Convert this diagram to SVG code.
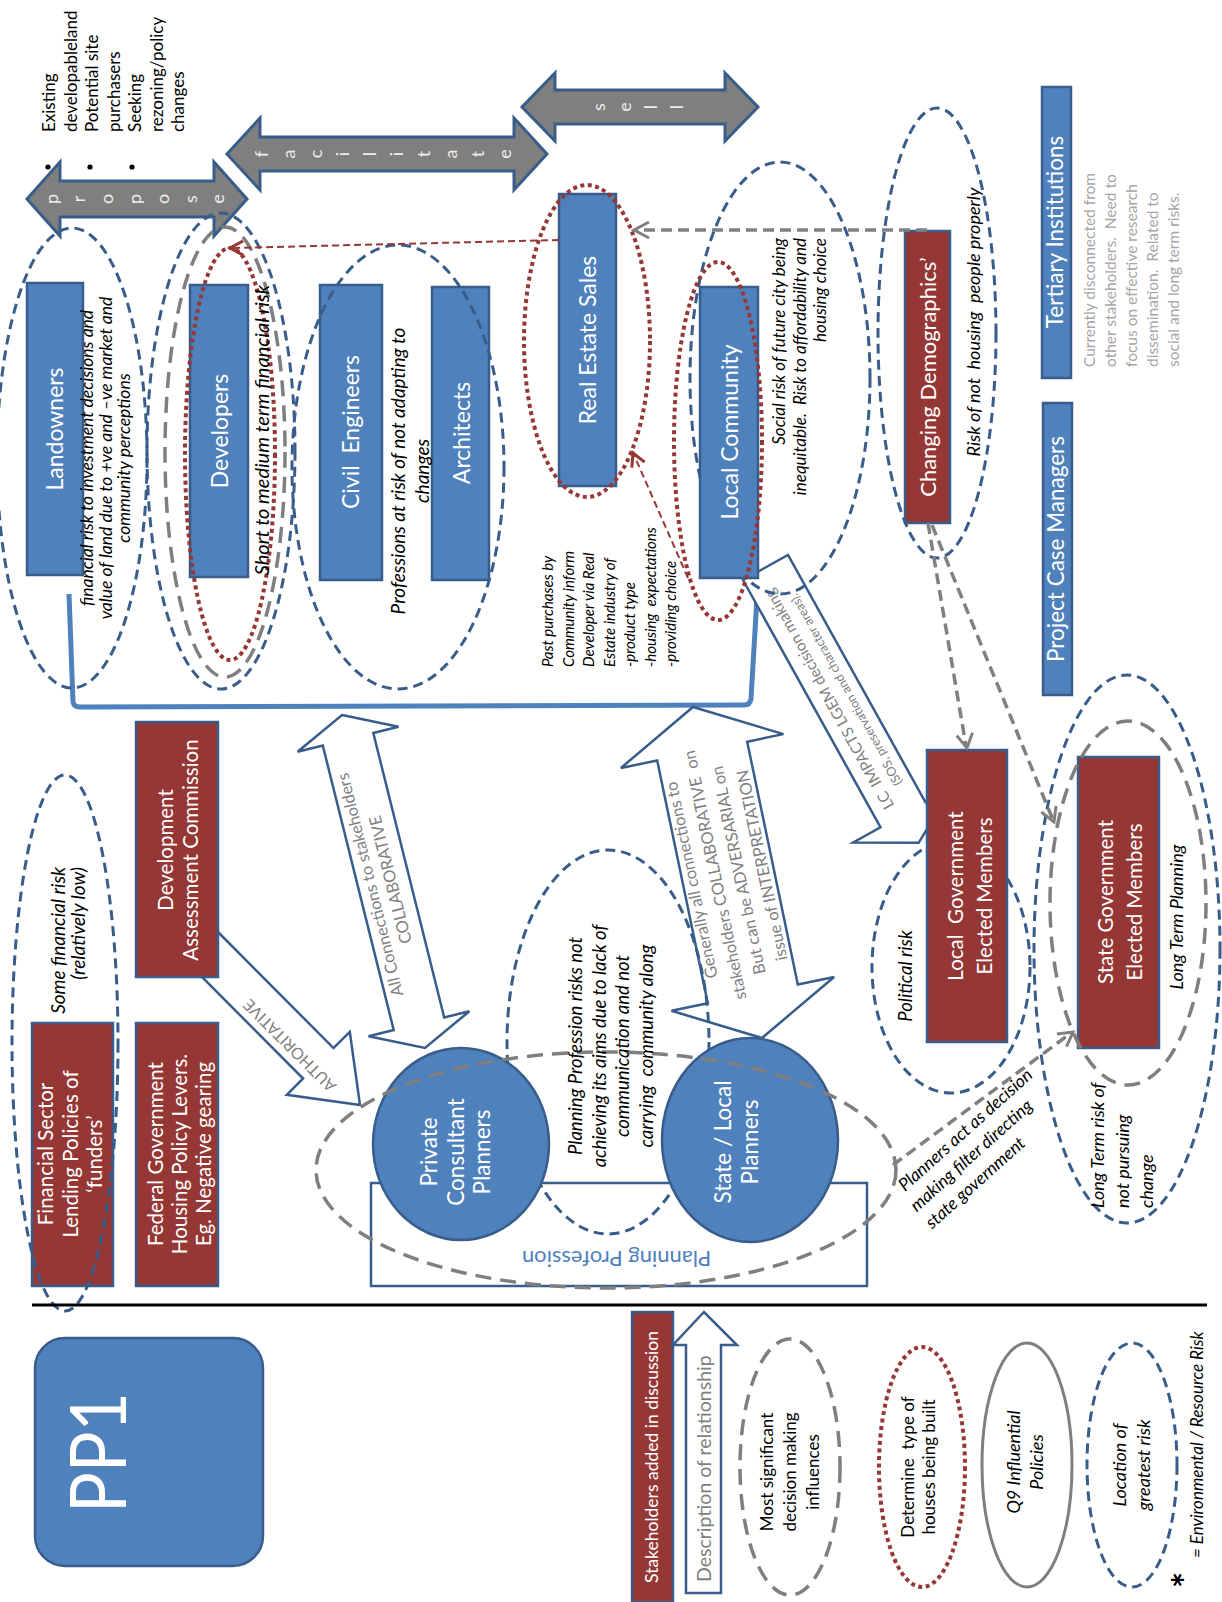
<svg xmlns="http://www.w3.org/2000/svg" width="1222" height="1602" viewBox="0 0 1222 1602">
<style>
  text{font-family:Lato,'Liberation Sans',sans-serif}
  .bx{fill:#4f81bd;stroke:#385d8a;stroke-width:2.5}
  .rd{fill:#953735;stroke:#385d8a;stroke-width:2.5}
  .w{fill:#fff;text-anchor:middle}
  .it{font-style:italic;fill:#000}
  .k{fill:#000}
  .c{text-anchor:middle}
  .e{text-anchor:end}
  .gt{fill:#7f7f7f}
  .lg{fill:#a6a6a6}
  .bd{fill:none;stroke:#385d8a;stroke-width:3;stroke-dasharray:10 6}
  .gd{fill:none;stroke:#7f7f7f;stroke-width:3.5;stroke-dasharray:16 9}
  .rdot{fill:none;stroke:#953735;stroke-width:4;stroke-dasharray:4 3.5}
  .hol{fill:#fff;stroke:#385d8a;stroke-width:2.5}
  .gar{fill:#7f7f7f;stroke:#385d8a;stroke-width:3}
  .let{fill:#ededed;font-size:18px;text-anchor:middle}
  .gdl{fill:none;stroke:#808080;stroke-width:3.5;stroke-dasharray:11 6}
  .rdl{fill:none;stroke:#953735;stroke-width:2;stroke-dasharray:7 4}
  .head{fill:none;stroke-width:3}
  .s23{font-size:23px}
  .s21{font-size:20.5px}
</style>
<rect width="1222" height="1602" fill="#fff"/>

<!-- connectors drawn beneath the stakeholder boxes -->
<g id="connectors">
  <!-- bracket grouping the stakeholders -->
  <path d="M69 594 L73 702 Q74 707 80 707 L744 705 Q750 705 751 699 L757 597" fill="none" stroke="#4f81bd" stroke-width="5"/>

  <!-- propose / facilitate / sell -->
  <polygon class="gar" points="27,199 60,162 60,181 214,181 214,162 247,199 214,236 214,217 60,217 60,236"/>
  <text class="let" transform="translate(0 199) rotate(-90)"><tspan x="0" y="57.5">p</tspan><tspan x="0" y="85.3">r</tspan><tspan x="0" y="113.1">o</tspan><tspan x="0" y="140.9">p</tspan><tspan x="0" y="168.7">o</tspan><tspan x="0" y="196.5">s</tspan><tspan x="0" y="224.3">e</tspan></text>

  <polygon class="gar" points="227,154 260,118 260,137 514,137 514,118 547,154 514,190 514,171 260,171 260,190"/>
  <text class="let" transform="translate(0 154) rotate(-90)"><tspan x="0" y="267.5">f</tspan><tspan x="0" y="294.6">a</tspan><tspan x="0" y="321.7">c</tspan><tspan x="0" y="348.8">i</tspan><tspan x="0" y="375.9">l</tspan><tspan x="0" y="403">i</tspan><tspan x="0" y="430.1">t</tspan><tspan x="0" y="457.2">a</tspan><tspan x="0" y="484.3">t</tspan><tspan x="0" y="511.4">e</tspan></text>

  <polygon class="gar" points="522,107 555,73 555,90 725,90 725,73 758,107 725,141 725,124 555,124 555,141"/>
  <text class="let" transform="translate(0 107) rotate(-90)"><tspan x="0" y="604.5">s</tspan><tspan x="0" y="630.5">e</tspan><tspan x="0" y="656.5">l</tspan><tspan x="0" y="682.5">l</tspan></text>

  <!-- AUTHORITATIVE -->
  <polygon class="hol" points="218,932 333.5,1048.1 349.8,1031.8 360,1105 286.8,1094.8 303.1,1078.5 190,965 205,920"/>
  <text class="gt c" style="font-size:16px" transform="translate(290 1045) rotate(-135)" y="5">AUTHORITATIVE</text>

  <!-- all connections collaborative -->
  <polygon class="hol" points="342,715 398.5,726.7 373.3,733 444.2,1017.5 469.4,1011.2 425,1048 368.5,1036.3 393.7,1030 322.8,745.6 297.6,751.8"/>
  <text class="gt c" style="font-size:16.5px" transform="translate(383.5 881.5) rotate(-104)"><tspan x="0" y="-8">All Connections to stakeholders</tspan><tspan x="0" y="13">COLLABORATIVE</tspan></text>

  <!-- generally collaborative, can be adversarial -->
  <polygon class="hol" points="693,707 783.4,734.1 747.2,741.7 797.8,984.5 834.1,977 762,1038 671.5,1010.8 707.8,1003.3 657.2,760.5 620.9,768"/>
  <text class="gt c" style="font-size:16.5px" transform="translate(727.5 872.5) rotate(-101.8)"><tspan x="0" y="-31">Generally all connections to</tspan><tspan x="0" y="-7">stakeholders COLLABORATIVE&#160; on</tspan><tspan x="0" y="17">But can be ADVERSARIAL on</tspan><tspan x="0" y="41">issue of INTERPRETATION</tspan></text>

  <!-- local community impacts on local government -->
  <polygon class="hol" points="743,580 880.5,827.3 853.2,842.5 918.6,842.8 952.8,787.1 925.5,802.3 788,555"/>
  <text class="gt c" transform="translate(836.5 695) rotate(-119.1)"><tspan x="0" y="-3" style="font-size:15.5px">LC&#160; IMPACTS LGEM decision making</tspan><tspan x="0" y="15" style="font-size:12.5px">(SOS, preservation and character areas).</tspan></text>
</g>

<!-- risk zones that sit behind boxes -->
<g id="zones-back">
  <ellipse class="bd" cx="951" cy="967" rx="79" ry="126"/>
  <ellipse class="bd" cx="780" cy="378" rx="90" ry="216"/>
</g>

<!-- stakeholders -->
<g id="landowners"><rect class="bx" x="27" y="283" width="56" height="292"/><text class="w s23" transform="translate(63 429) rotate(-90)">Landowners</text></g>
<g id="developers"><rect class="bx" x="190" y="285" width="58" height="292"/><text class="w s23" transform="translate(228 431) rotate(-90)">Developers</text></g>
<g id="civil-engineers"><rect class="bx" x="320" y="285" width="62" height="295"/><text class="w s23" transform="translate(359 432) rotate(-90)">Civil&#160; Engineers</text></g>
<g id="architects"><rect class="bx" x="432" y="287" width="57" height="293"/><text class="w s23" transform="translate(470 433) rotate(-90)">Architects</text></g>
<g id="real-estate-sales"><rect class="bx" x="559" y="194" width="57" height="292"/><text class="w s23" transform="translate(596 340) rotate(-90)">Real Estate Sales</text></g>
<g id="local-community"><rect class="bx" x="700" y="287" width="58" height="291"/><text class="w s23" transform="translate(738 432) rotate(-90)">Local Community</text></g>
<g id="changing-demographics"><rect class="rd" x="905" y="231" width="45" height="292"/><text class="w" style="font-size:22px" transform="translate(936 377) rotate(-90)">Changing Demographics’</text></g>
<g id="tertiary-institutions"><rect class="bx" x="1042" y="87" width="29" height="291"/><text class="w" style="font-size:22.5px" transform="translate(1063 232) rotate(-90)">Tertiary Institutions</text></g>
<g id="project-case-managers"><rect class="bx" x="1043" y="403" width="29" height="292"/><text class="w" style="font-size:22.5px" transform="translate(1064 549) rotate(-90)">Project Case Managers</text></g>
<g id="local-government"><rect class="rd" x="927" y="750" width="80" height="292"/><text class="w s21" transform="translate(963 896) rotate(-90)"><tspan x="0" y="0">Local&#160; Government</tspan><tspan x="0" y="29">Elected Members</tspan></text></g>
<g id="state-government"><rect class="rd" x="1078" y="757" width="81" height="291"/><text class="w s21" transform="translate(1113 902) rotate(-90)"><tspan x="0" y="0">State Government</tspan><tspan x="0" y="29">Elected Members</tspan></text></g>
<g id="development-assessment-commission"><rect class="rd" x="136" y="722" width="82" height="255"/><text class="w s21" transform="translate(173 850) rotate(-90)"><tspan x="0" y="0">Development</tspan><tspan x="0" y="25">Assessment Commission</tspan></text></g>
<g id="financial-sector"><rect class="rd" x="32" y="1023" width="81" height="263"/><text class="w s21" transform="translate(53 1154) rotate(-90)"><tspan x="0" y="0">Financial Sector</tspan><tspan x="0" y="24.5">Lending Policies of</tspan><tspan x="0" y="49">‘funders’</tspan></text></g>
<g id="federal-government"><rect class="rd" x="136" y="1023" width="82" height="263"/><text class="w s21" transform="translate(163 1154) rotate(-90)"><tspan x="0" y="0">Federal Government</tspan><tspan x="0" y="24">Housing Policy Levers.</tspan><tspan x="0" y="48">Eg. Negative gearing</tspan></text></g>

<g id="planning-profession">
  <rect x="371" y="1183" width="496" height="103" fill="#fff" stroke="#385d8a" stroke-width="2.5"/>
  <text class="c" style="font-size:22px;fill:#4f81bd" transform="translate(616.5 1251) rotate(180)">Planning Profession</text>
  <ellipse class="bd" cx="608" cy="1042" rx="101" ry="192"/>
</g>
<g id="private-consultant-planners"><ellipse class="bx" cx="461" cy="1144" rx="88" ry="96"/><text class="w" style="font-size:22.5px" transform="translate(437 1152) rotate(-90)"><tspan x="0" y="0">Private</tspan><tspan x="0" y="27">Consultant</tspan><tspan x="0" y="53">Planners</tspan></text></g>
<g id="state-local-planners"><ellipse class="bx" cx="750" cy="1140" rx="88" ry="102"/><text class="w" style="font-size:22.5px" transform="translate(731 1142) rotate(-90)"><tspan x="0" y="0">State / Local</tspan><tspan x="0" y="27">Planners</tspan></text></g>

<g id="pp1"><rect class="bx" x="35" y="1338" width="228" height="228" rx="30"/><text style="font-size:78px;fill:#fff" transform="translate(126 1513) rotate(-90)" textLength="121" lengthAdjust="spacingAndGlyphs">PP1</text></g>

<!-- risk zones drawn over the boxes -->
<g id="zones-front">
  <ellipse class="bd" cx="72" cy="458" rx="75" ry="230"/>
  <ellipse class="bd" cx="221" cy="451" rx="74" ry="238"/>
  <ellipse class="gd" cx="225" cy="452" rx="60" ry="225"/>
  <ellipse class="rdot" cx="230" cy="454" rx="45" ry="206"/>
  <ellipse class="bd" cx="398" cy="467" rx="106" ry="222"/>
  <ellipse class="rdot" cx="587" cy="341" rx="63" ry="156"/>
  <ellipse class="rdot" cx="718" cy="441" rx="44" ry="179"/>
  <ellipse class="bd" cx="937" cy="333" rx="59" ry="225"/>
  <ellipse class="bd" cx="1127" cy="949" rx="93" ry="274"/>
  <ellipse class="gd" cx="1128" cy="903" rx="78" ry="182"/>
  <ellipse class="bd" cx="65" cy="1043" rx="53" ry="268"/>
  <ellipse class="gd" cx="606" cy="1170" rx="290" ry="118"/>
</g>

<!-- dashed influence links -->
<g id="links">
  <path class="gdl" d="M927 230 L635 230"/>
  <polyline class="head" stroke="#808080" points="649,222 634,230 649,238"/>
  <path class="gdl" d="M928 523 L966 746"/>
  <polyline class="head" stroke="#808080" points="956.7,735.6 967,748 972.5,732.8"/>
  <path class="gdl" d="M932 525 L1053 820"/>
  <polyline class="head" stroke="#808080" points="1041.3,812 1054,822 1056.1,806"/>
  <path class="gdl" d="M893 1165 L1071 1033"/>
  <polyline class="head" stroke="#808080" points="1066.5,1046.7 1073,1032 1056.9,1033.9"/>
  <path class="rdl" d="M559 240 L232 248"/>
  <polyline class="head" stroke="#953735" stroke-width="2" points="243,241 230,248 243,255"/>
  <path class="rdl" d="M688 578 L634 455"/>
  <polyline class="head" stroke="#953735" stroke-width="2" points="644.6,462.1 633,453 631.8,467.7"/>
</g>

<!-- notes -->
<g id="notes">
  <circle cx="48" cy="167" r="2.6"/><circle cx="90" cy="167" r="2.6"/><circle cx="132" cy="167" r="2.6"/>
  <text class="k" style="font-size:17px" transform="translate(55 132) rotate(-90)"><tspan x="0" y="0">Existing</tspan><tspan x="0" dy="21.5">developableland</tspan><tspan x="0" dy="21.5">Potential site</tspan><tspan x="0" dy="21.5">purchasers</tspan><tspan x="0" dy="21.5">Seeking</tspan><tspan x="0" dy="21.5">rezoning/policy</tspan><tspan x="0" dy="21.5">changes</tspan></text>

  <text class="it c" style="font-size:17.5px" transform="translate(93 458) rotate(-90)"><tspan x="0" y="0">financial risk to investment decisions and</tspan><tspan x="0" dy="18.5">value of land due to +ve and –ve market and</tspan><tspan x="0" dy="18.5">community perceptions</tspan></text>
  <text class="it c" style="font-size:20px" transform="translate(269 430) rotate(-90)">Short to medium term financial risk</text>
  <text class="it c" style="font-size:19px" transform="translate(405 471) rotate(-90)"><tspan x="0" y="0">Professions at risk of not adapting to</tspan><tspan x="0" dy="24">changes</tspan></text>
  <text class="it" style="font-size:15px" transform="translate(553 667) rotate(-90)"><tspan x="0" y="0">Past purchases by</tspan><tspan x="0" dy="20.5">Community inform</tspan><tspan x="0" dy="20.5">Developer via Real</tspan><tspan x="0" dy="20.5">Estate industry of</tspan><tspan x="0" dy="20.5">-product type</tspan><tspan x="0" dy="20.5">-housing&#160; expectations</tspan><tspan x="0" dy="20.5">-providing choice</tspan></text>
  <text class="it e" style="font-size:17px" transform="translate(785 238) rotate(-90)"><tspan x="0" y="0">Social risk of future city being</tspan><tspan x="0" dy="20.5">inequitable.&#160; Risk to affordability and</tspan><tspan x="0" dy="20.5">housing choice</tspan></text>
  <text class="it c" style="font-size:18px" transform="translate(980 322) rotate(-90)">Risk of not&#160; housing&#160; people properly</text>
  <text class="lg" style="font-size:15.5px" transform="translate(1095 367) rotate(-90)"><tspan x="0" y="0">Currently disconnected from</tspan><tspan x="0" dy="21">other stakeholders.&#160; Need to</tspan><tspan x="0" dy="21">focus on effective research</tspan><tspan x="0" dy="21">dissemination.&#160; Related to</tspan><tspan x="0" dy="21">social and long term risks.</tspan></text>
  <text class="it c" style="font-size:18.5px" transform="translate(912 976) rotate(-90)">Political risk</text>
  <text class="it c" style="font-size:18px" transform="translate(1183 917) rotate(-90)">Long Term Planning</text>
  <text class="it" style="font-size:18px" transform="translate(1104 1208) rotate(-90)"><tspan x="0" y="0">Long Term risk of</tspan><tspan x="0" dy="24.5">not pursuing</tspan><tspan x="0" dy="24.5">change</tspan></text>
  <text class="it e" style="font-size:19px" transform="translate(65 867) rotate(-90)"><tspan x="0" y="0">Some financial risk</tspan><tspan x="0" dy="20">(relatively low)</tspan></text>
  <text class="it c" style="font-size:18.5px" transform="translate(582 1046) rotate(-90)"><tspan x="0" y="0">Planning Profession risks not</tspan><tspan x="0" dy="23.7">achieving its aims due to lack of</tspan><tspan x="0" dy="23.7">communication and not</tspan><tspan x="0" dy="23.7">carrying&#160; community along</tspan></text>
  <text class="it" style="font-size:17.5px" transform="translate(905 1192) rotate(-41.9)"><tspan x="0" y="0">Planners act as decision</tspan><tspan x="-5" dy="23">making filter directing</tspan><tspan x="-5" dy="23">state government</tspan></text>
</g>

<!-- divider -->
<line x1="32" y1="1305" x2="1207" y2="1305" stroke="#000" stroke-width="3"/>

<!-- key -->
<g id="legend">
  <rect class="rd" x="632" y="1312" width="41" height="290"/>
  <text class="w" style="font-size:17.5px" transform="translate(658 1457) rotate(-90)">Stakeholders added in discussion</text>
  <polygon class="hol" points="686,1593 686,1345 673,1345 704,1312 737,1345 721,1345 721,1593"/>
  <text class="gt" style="font-size:19.5px" transform="translate(711 1582) rotate(-90)">Description of relationship</text>
  <ellipse class="gd" cx="790" cy="1467" rx="50" ry="128"/>
  <text class="k c" style="font-size:17px" transform="translate(773 1472) rotate(-90)"><tspan x="0" y="0">Most significant</tspan><tspan x="0" dy="23">decision making</tspan><tspan x="0" dy="23">influences</tspan></text>
  <ellipse class="rdot" cx="922" cy="1467" rx="43" ry="120"/>
  <text class="k c" style="font-size:17px" transform="translate(914 1467) rotate(-90)"><tspan x="0" y="0">Determine&#160; type of</tspan><tspan x="0" dy="21">houses being built</tspan></text>
  <ellipse cx="1027" cy="1465" rx="45" ry="122" fill="none" stroke="#7f7f7f" stroke-width="3"/>
  <text class="it c" style="font-size:18px" transform="translate(1020 1462) rotate(-90)"><tspan x="0" y="0">Q9 Influential</tspan><tspan x="0" dy="23">Policies</tspan></text>
  <ellipse class="bd" cx="1132" cy="1465" rx="45" ry="122"/>
  <text class="it c" style="font-size:18px" transform="translate(1126 1465) rotate(-90)"><tspan x="0" y="0">Location of</tspan><tspan x="0" dy="24">greatest risk</tspan></text>
  <text class="k c" style="font-size:38px;font-weight:bold" transform="translate(1200 1580) rotate(-90)">*</text>
  <text class="it" style="font-size:17px" transform="translate(1203 1558) rotate(-90)">= Environmental / Resource Risk</text>
</g>
</svg>
